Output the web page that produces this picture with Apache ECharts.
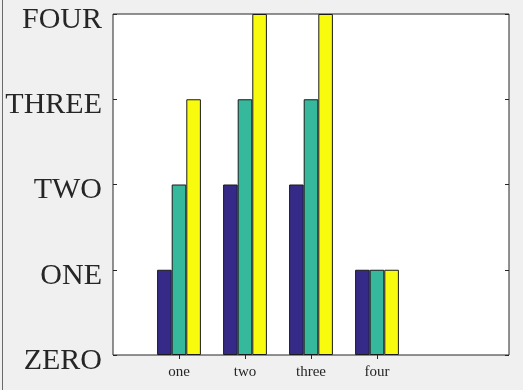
<!DOCTYPE html>
<html><head><meta charset="utf-8">
<script src="https://cdn.jsdelivr.net/npm/echarts@6/dist/echarts.min.js"></script>
<style>html,body{margin:0;padding:0;background:#f0f0f0;}#c{width:523px;height:390px;}</style>
</head><body><div id="c"></div>
<script>
const categories = ['one', 'two', 'three', 'four'];
const series1 = [1, 2, 2, 1];
const series2 = [2, 3, 3, 1];
const series3 = [3, 4, 4, 1];
const yTickLabels = ['ZERO', 'ONE', 'TWO', 'THREE', 'FOUR'];

const paddedCats = [''].concat(categories, ['', '']);
const pad = a => [null].concat(a, [null, null]);
const colors = ['#352a87', '#36b89d', '#f9fb0e'];
const font = 'Liberation Serif';
const tickFilter = (i, v) => v !== '';

const chart = echarts.init(document.getElementById('c'), null, {renderer: 'canvas'});
const mkBar = (data, c) => ({
  type: 'bar', data: pad(data), barWidth: 14.6, barGap: '0%',
  itemStyle: {color: c, borderColor: '#1a1a1a', borderWidth: 1},
  animation: false
});
chart.setOption({
  backgroundColor: '#f0f0f0',
  animation: false,
  grid: {left: 113, top: 14, width: 396, height: 341, show: true, backgroundColor: '#ffffff', borderColor: '#262626', borderWidth: 1},
  xAxis: [{
    type: 'category', data: paddedCats, boundaryGap: false, position: 'bottom',
    axisLine: {show: false},
    axisTick: {show: true, inside: true, length: 4, interval: tickFilter, lineStyle: {color: '#262626'}},
    axisLabel: {interval: 0, fontFamily: font, fontSize: 15, color: '#262626', margin: 10},
    splitLine: {show: false}
  }, {
    type: 'category', data: paddedCats, boundaryGap: false, position: 'top',
    axisLine: {show: false},
    axisTick: {show: true, inside: true, length: 4, interval: tickFilter, lineStyle: {color: '#262626'}},
    axisLabel: {show: false}, splitLine: {show: false}
  }],
  yAxis: [{
    type: 'value', min: 0, max: 4, interval: 1, position: 'left',
    axisLine: {show: false},
    axisTick: {show: true, inside: true, length: 4, lineStyle: {color: '#262626'}},
    axisLabel: {margin: 11,
      formatter: v => '{a|' + yTickLabels[v] + '}',
      rich: {a: {fontFamily: font, fontSize: 30, color: '#262626', padding: [12, 0, 0, 0]}}},
    splitLine: {show: false}
  }, {
    type: 'value', min: 0, max: 4, interval: 1, position: 'right',
    axisLine: {show: false},
    axisTick: {show: true, inside: true, length: 4, lineStyle: {color: '#262626'}},
    axisLabel: {show: false}, splitLine: {show: false}
  }],
  series: [mkBar(series1, colors[0]), mkBar(series2, colors[1]), mkBar(series3, colors[2])],
  graphic: [{type: 'line', shape: {x1: 2.5, y1: 0, x2: 2.5, y2: 390}, style: {stroke: '#6a6a6a', lineWidth: 1}}]
});
</script></body></html>
